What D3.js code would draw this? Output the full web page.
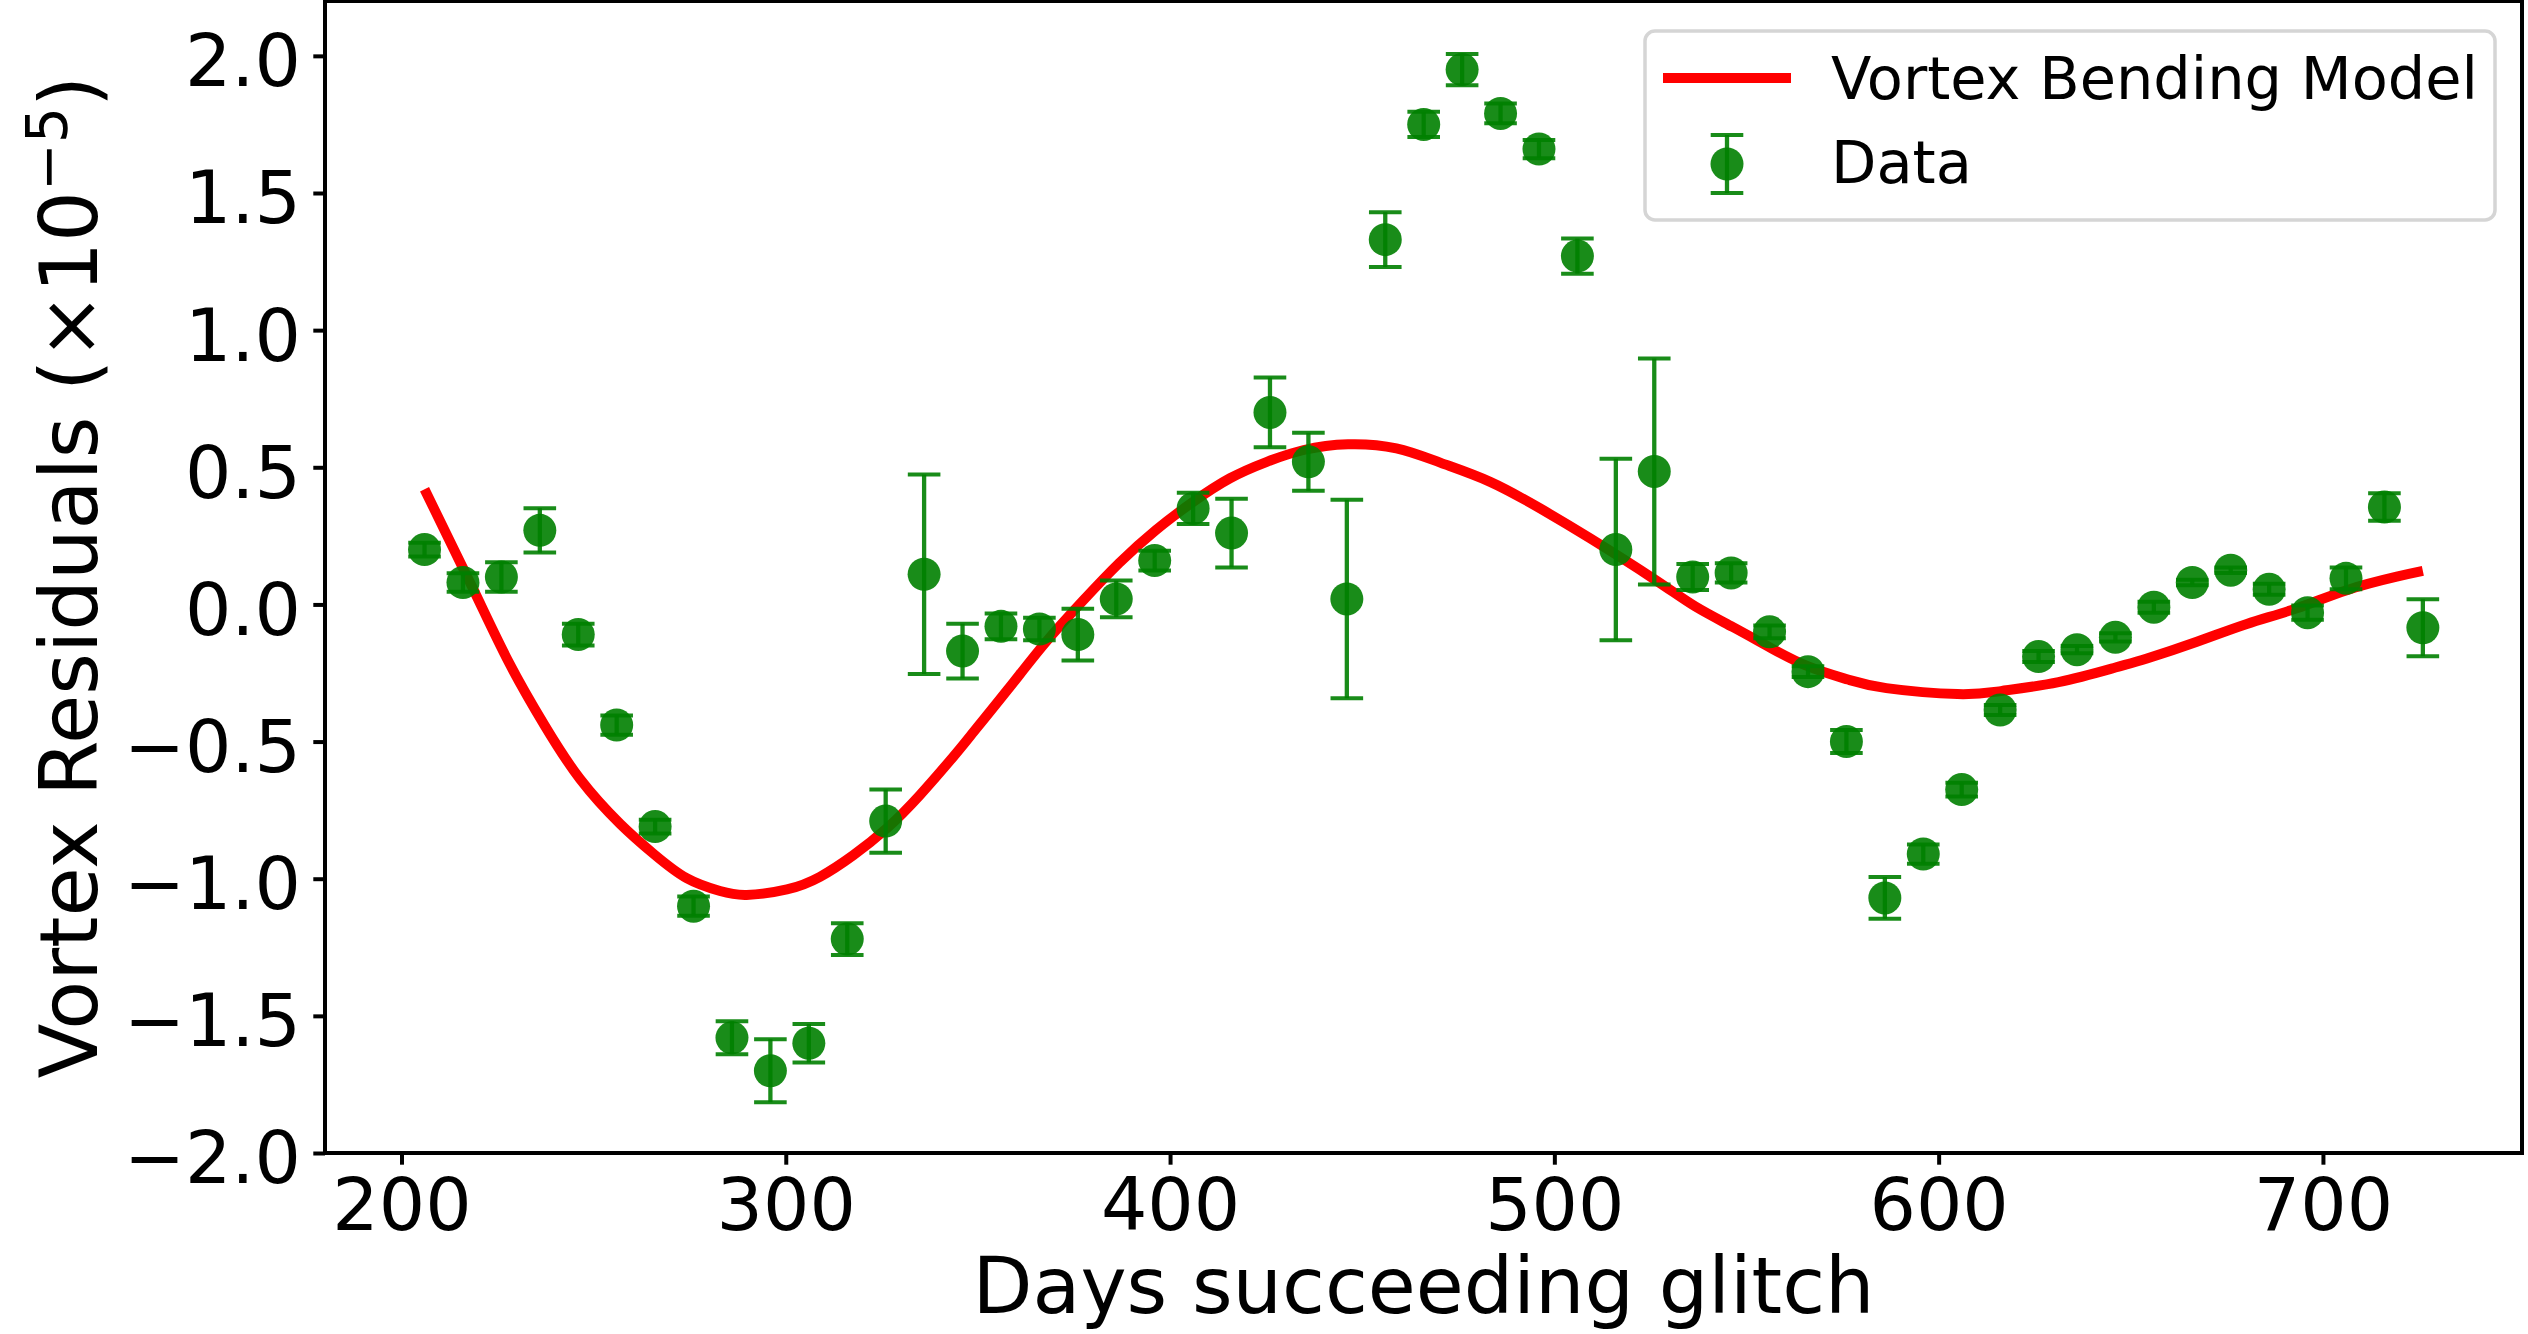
<!DOCTYPE html>
<html>
<head>
<meta charset="utf-8">
<script src="https://cdn.jsdelivr.net/npm/d3@7"></script>
<style>
    html, body { margin: 0; padding: 0; background: #fff; }
    svg { display: block; font-family: "DejaVu Sans", sans-serif; }
</style>
</head>
<body>
<div id="chart"></div>
<script>

const days = [206, 216, 226, 236, 246, 256, 266, 276, 286, 296, 306, 316, 326, 336, 346, 356, 366, 376,
    386, 396, 406, 416, 426, 436, 446, 456, 466, 476, 486, 496, 506, 516, 526, 536, 546, 556, 566, 576,
    586, 596, 606, 616, 626, 636, 646, 656, 666, 676, 686, 696, 706, 716, 726];
const residuals = [0.20, 0.08, 0.10, 0.27, -0.11, -0.44, -0.81, -1.10, -1.58, -1.70, -1.60, -1.22, -0.79, 0.11, -0.17, -0.08, -0.09, -0.11,
    0.02, 0.16, 0.35, 0.26, 0.70, 0.52, 0.02, 1.33, 1.75, 1.95, 1.79, 1.66, 1.27, 0.20, 0.485, 0.10, 0.115, -0.10, -0.245, -0.50,
    -1.07, -0.91, -0.675, -0.385, -0.19, -0.165, -0.12, -0.01, 0.08, 0.125, 0.055, -0.03, 0.095, 0.355, -0.085];
const errors = [0.025, 0.034, 0.054, 0.081, 0.04, 0.035, 0.025, 0.035, 0.06, 0.115, 0.07, 0.058, 0.115, 0.364, 0.10, 0.047, 0.041, 0.094,
    0.067, 0.036, 0.057, 0.125, 0.127, 0.106, 0.362, 0.10, 0.046, 0.057, 0.036, 0.033, 0.064, 0.331, 0.412, 0.047, 0.035, 0.023, 0.02, 0.042,
    0.076, 0.035, 0.025, 0.018, 0.02, 0.013, 0.015, 0.02, 0.01, 0.01, 0.02, 0.026, 0.04, 0.05, 0.104];

// model curve sampled off the figure
const modelDays = [206, 218.6, 227.9, 237.2, 246.5, 256.9, 265.5, 274.2, 282.9, 289.8, 300.3, 308.9, 317.6, 326.3, 334.9,
    343.6, 348, 357.8, 367.4, 377.1, 386.7, 396.3, 406, 415.6, 425.2, 434.8, 446.3, 458.9, 470.3, 483.3, 496.3, 509.3,
    526.2, 536.6, 546.5, 556.5, 566.4, 576.4, 586.4, 604.9, 616.2, 631.2, 646, 654.2, 667.2, 680.2, 693.2, 706.2, 719.2, 726];
const modelValues = [0.42, 0.058, -0.21, -0.44, -0.637, -0.80, -0.908, -0.998, -1.045, -1.059, -1.039, -0.993, -0.914, -0.816, -0.695,
    -0.555, -0.48, -0.31, -0.142, 0.01, 0.15, 0.271, 0.374, 0.46, 0.52, 0.563, 0.584, 0.569, 0.517, 0.447, 0.35, 0.241,
    0.09, -0.007, -0.083, -0.16, -0.228, -0.274, -0.305, -0.327, -0.316, -0.283, -0.23, -0.197, -0.136, -0.071, -0.014, 0.052, 0.101, 0.122];

// axis ticks
const xTicks = [200, 300, 400, 500, 600, 700];
const yTicks = [-2.0, -1.5, -1.0, -0.5, 0.0, 0.5, 1.0, 1.5, 2.0];

const legendLabels = ["Vortex Bending Model", "Data"];

function buildViz() {
    const W = 2528, H = 1334;
    const plot = { left: 325, right: 2522, top: 1, bottom: 1153 };
    const dataColor = "#008000";
    const dataAlpha = 0.9;
    const modelColor = "#ff0000";

    const svg = d3.select("#chart")
        .append("svg")
        .attr("width", W)
        .attr("height", H);

    svg.append("rect")
        .attr("width", W)
        .attr("height", H)
        .attr("fill", "#fff");

    // SCALES
    const xScale = d3.scaleLinear()
        .domain([180.1, 751.8])
        .range([plot.left, plot.right]);

    const yScale = d3.scaleLinear()
        .domain([-2.0, 2.2])
        .range([plot.bottom, plot.top]);

    // MODEL LINE
    const line = d3.line()
        .x(d => xScale(d[0]))
        .y(d => yScale(d[1]))
        .curve(d3.curveNatural);

    svg.append("path")
        .datum(modelDays.map((d, i) => [d, modelValues[i]]))
        .attr("fill", "none")
        .attr("stroke", modelColor)
        .attr("stroke-width", 10)
        .attr("d", line);

    // DATA WITH ERROR BARS
    const points = days.map((d, i) => ({ day: d, value: residuals[i], err: errors[i] }));
    const capHalf = 16.3;

    const pts = svg.append("g")
        .selectAll("g")
        .data(points)
        .enter()
        .append("g");

    pts.append("line")
        .attr("x1", d => xScale(d.day))
        .attr("x2", d => xScale(d.day))
        .attr("y1", d => yScale(d.value - d.err))
        .attr("y2", d => yScale(d.value + d.err))
        .attr("stroke", dataColor)
        .attr("stroke-opacity", dataAlpha)
        .attr("stroke-width", 4.3);

    [-1, 1].forEach(sign => {
        pts.append("line")
            .attr("x1", d => xScale(d.day) - capHalf)
            .attr("x2", d => xScale(d.day) + capHalf)
            .attr("y1", d => yScale(d.value + sign * d.err))
            .attr("y2", d => yScale(d.value + sign * d.err))
            .attr("stroke", dataColor)
            .attr("stroke-opacity", dataAlpha)
            .attr("stroke-width", 4);
    });

    pts.append("circle")
        .attr("cx", d => xScale(d.day))
        .attr("cy", d => yScale(d.value))
        .attr("r", 16.5)
        .attr("fill", dataColor)
        .attr("fill-opacity", dataAlpha);

    // AXES
    const xAxis = svg.append("g")
        .attr("transform", `translate(0,${plot.bottom})`)
        .call(d3.axisBottom(xScale)
            .tickValues(xTicks)
            .tickFormat(d3.format("d"))
            .tickSize(11.7)
            .tickSizeOuter(0)
            .tickPadding(13.5));

    const yAxis = svg.append("g")
        .attr("transform", `translate(${plot.left},0)`)
        .call(d3.axisLeft(yScale)
            .tickValues(yTicks)
            .tickFormat(d3.format(".1f"))
            .tickSize(11.7)
            .tickSizeOuter(0)
            .tickPadding(12.3));

    [xAxis, yAxis].forEach(ax => {
        ax.select(".domain").remove();
        ax.selectAll(".tick line")
            .attr("stroke", "#000")
            .attr("stroke-width", 4);
        ax.selectAll(".tick text")
            .attr("fill", "#000")
            .style("font-family", "DejaVu Sans")
            .style("font-size", "73px");
    });
    yAxis.selectAll(".tick text").attr("dy", "0.41em");

    // spines
    svg.append("rect")
        .attr("x", plot.left)
        .attr("y", plot.top)
        .attr("width", plot.right - plot.left)
        .attr("height", plot.bottom - plot.top)
        .attr("fill", "none")
        .attr("stroke", "#000")
        .attr("stroke-width", 4);

    // AXIS LABELS
    svg.append("text")
        .attr("x", (plot.left + plot.right) / 2)
        .attr("y", 1313)
        .attr("text-anchor", "middle")
        .style("font-size", "78px")
        .text("Days succeeding glitch");

    const yLabel = svg.append("text")
        .attr("transform", `translate(97,${(plot.top + plot.bottom) / 2}) rotate(-90)`)
        .attr("text-anchor", "middle")
        .style("font-size", "80px");
    yLabel.append("tspan").text("Vortex Residuals (×10");
    yLabel.append("tspan")
        .attr("dy", -30)
        .style("font-size", "57px")
        .text("−5");
    yLabel.append("tspan")
        .attr("dy", 30)
        .text(")");

    // LEGEND
    const legend = svg.append("g");

    legend.append("rect")
        .attr("x", 1645)
        .attr("y", 31)
        .attr("width", 850)
        .attr("height", 189)
        .attr("rx", 10)
        .attr("fill", "#fff")
        .attr("fill-opacity", 0.8)
        .attr("stroke", "#d5d5d5")
        .attr("stroke-width", 3.5);

    legend.append("line")
        .attr("x1", 1663)
        .attr("x2", 1791)
        .attr("y1", 78)
        .attr("y2", 78)
        .attr("stroke", modelColor)
        .attr("stroke-width", 10);

    const lx = 1727, ly = 164, le = 29;
    legend.append("line")
        .attr("x1", lx).attr("x2", lx)
        .attr("y1", ly - le).attr("y2", ly + le)
        .attr("stroke", dataColor)
        .attr("stroke-opacity", dataAlpha)
        .attr("stroke-width", 4.3);
    [-le, le].forEach(off => {
        legend.append("line")
            .attr("x1", lx - capHalf).attr("x2", lx + capHalf)
            .attr("y1", ly + off).attr("y2", ly + off)
            .attr("stroke", dataColor)
            .attr("stroke-opacity", dataAlpha)
            .attr("stroke-width", 4);
    });
    legend.append("circle")
        .attr("cx", lx)
        .attr("cy", ly)
        .attr("r", 16.5)
        .attr("fill", dataColor)
        .attr("fill-opacity", dataAlpha);

    legend.selectAll("text.legend-label")
        .data(legendLabels)
        .enter()
        .append("text")
        .attr("class", "legend-label")
        .attr("x", 1831)
        .attr("y", (d, i) => i === 0 ? 99 : 183)
        .style("font-size", "59px")
        .text(d => d);
}

buildViz();
</script>
</body>
</html>
